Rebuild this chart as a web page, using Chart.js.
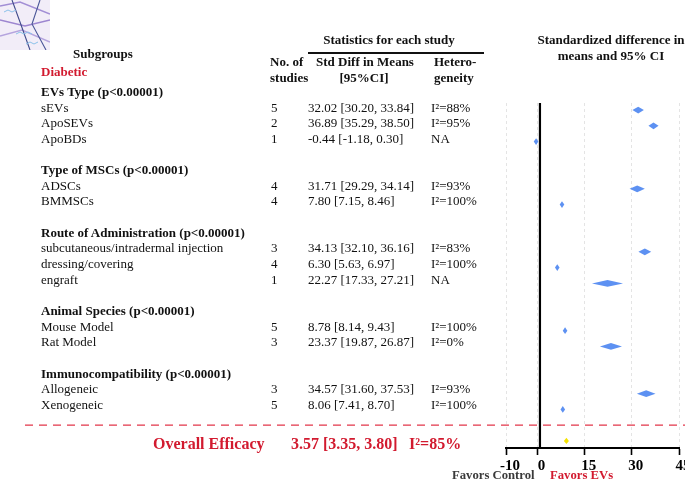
<!DOCTYPE html>
<html>
<head>
<meta charset="utf-8">
<script src="https://cdn.jsdelivr.net/npm/chart.js@4/dist/chart.umd.min.js"></script>
<style>
  html, body { margin: 0; padding: 0; background: #fff; overflow: hidden; }
  #wrap { position: relative; width: 685px; height: 480px; overflow: hidden;
    font-family: "Liberation Serif", "Times New Roman", serif; color: #111; }
  #forest { position: absolute; left: 0; top: 0; }
  #labels { position: absolute; left: 0; top: 0; width: 685px; height: 480px; pointer-events: none; }
  .t { position: absolute; white-space: nowrap; line-height: 16px; font-size: 13px; }
  .b { font-weight: bold; }
  .red { color: #d21a2f; }
  .c { transform: translateX(-50%); text-align: center; }
  .big { font-size: 16px; line-height: 20px; }
</style>
</head>
<body>
<div id="wrap">
  <svg width="50" height="50" style="position:absolute;left:0;top:0">
    <rect width="50" height="50" fill="#f2edf8"/>
    <path d="M0 6 L20 2 L50 14" stroke="#a28ed5" stroke-width="1.6" fill="none"/>
    <path d="M0 20 L25 26 L50 20" stroke="#9d86d0" stroke-width="1.4" fill="none"/>
    <path d="M0 36 L22 30 L50 42" stroke="#b5a4de" stroke-width="1.4" fill="none"/>
    <path d="M12 0 L20 22 L30 50" stroke="#414b8c" stroke-width="1.1" fill="none"/>
    <path d="M40 0 L32 24 L46 50" stroke="#4b5698" stroke-width="1.1" fill="none"/>
    <path d="M4 12 l4 -2 l4 2 l4 -2" stroke="#8cc2ea" stroke-width="1" fill="none"/>
    <path d="M16 34 l4 -2 l4 2 l4 -2 l4 2" stroke="#8cc2ea" stroke-width="1" fill="none"/>
    <path d="M26 44 l4 -2 l4 2 l4 -2" stroke="#8cc2ea" stroke-width="1" fill="none"/>
  </svg>
  <canvas id="forest" width="685" height="480"></canvas>
  <div id="labels"></div>
</div>
<script>
// subgroup data
const groupHeaders = ['EVs Type (p<0.00001)', 'Type of MSCs (p<0.00001)',
  'Route of Administration (p<0.00001)', 'Animal Species (p<0.00001)',
  'Immunocompatibility (p<0.00001)'];
const categories = ['sEVs', 'ApoSEVs', 'ApoBDs', 'ADSCs', 'BMMSCs',
  'subcutaneous/intradermal injection', 'dressing/covering', 'engraft',
  'Mouse Model', 'Rat Model', 'Allogeneic', 'Xenogeneic'];
const groupOf = [0, 0, 0, 1, 1, 2, 2, 2, 3, 3, 4, 4];
const nStudies = [5, 2, 1, 4, 4, 3, 4, 1, 5, 3, 3, 5];
const means = [32.02, 36.89, -0.44, 31.71, 7.80, 34.13, 6.30, 22.27, 8.78, 23.37, 34.57, 8.06];
const lower = [30.20, 35.29, -1.18, 29.29, 7.15, 32.10, 5.63, 17.33, 8.14, 19.87, 31.60, 7.41];
const upper = [33.84, 38.50, 0.30, 34.14, 8.46, 36.16, 6.97, 27.21, 9.43, 26.87, 37.53, 8.70];
const i2 = [88, 95, null, 93, 100, 83, 100, null, 100, 0, 93, 100];

const overallStats = [3.57, 3.35, 3.80];
const overallI2 = 85;
const overallMarker = [9.2, 8.4, 10.0]; // where the yellow diamond sits in the picture

const xTicks = [-10, 0, 15, 30, 45];

// row layout: header, items, blank line between groups
const itemRows = [];
const headerRows = [];
let row = -1;
groupOf.forEach((g, i) => {
  if (i === 0 || groupOf[i - 1] !== g) {
    if (i > 0) row++;
    headerRows.push(row);
    row++;
  }
  itemRows.push(row);
  row++;
});
const sepRow = row;
const overallRow = row + 1;

const fmt = v => v.toFixed(2);
const ciText = (m, l, h) => fmt(m) + ' [' + fmt(l) + ', ' + fmt(h) + ']';

// html text
const box = document.getElementById('labels');
function put(text, x, y, cls, style) {
  const d = document.createElement('div');
  d.className = 't ' + (cls || '');
  d.textContent = text;
  d.style.left = x + 'px';
  d.style.top = (y - (cls && cls.indexOf('big') >= 0 ? 10 : 8)) + 'px';
  if (style) Object.assign(d.style, style);
  box.appendChild(d);
}
const textY = r => 107.5 + 15.66 * r;

put('Statistics for each study', 389, 40, 'b c');
const rule = document.createElement('div');
Object.assign(rule.style, {position: 'absolute', left: '308px', top: '52px', width: '176px', height: '1.5px', background: '#111'});
box.appendChild(rule);
put('Standardized difference in', 611, 40, 'b c');
put('means and 95% CI', 611, 56, 'b c');
put('Subgroups', 73, 54, 'b');
put('Diabetic', 41, 72, 'b red');
put('No. of', 270, 62, 'b');
put('studies', 270, 78, 'b');
put('Std Diff in Means', 365, 62, 'b c');
put('[95%CI]', 364, 78, 'b c');
put('Hetero-', 434, 62, 'b');
put('geneity', 434, 78, 'b');

groupHeaders.forEach((h, g) => put(h, 41, textY(headerRows[g]), 'b'));
categories.forEach((c, i) => {
  const y = textY(itemRows[i]);
  put(c, 41, y);
  put(String(nStudies[i]), 271, y);
  put(ciText(means[i], lower[i], upper[i]), 308, y);
  put(i2[i] === null ? 'NA' : 'I\u00b2=' + i2[i] + '%', 431, y);
});

put('Overall Efficacy', 153, 444, 'b red big');
put(ciText(overallStats[0], overallStats[1], overallStats[2]), 291, 444, 'b red big');
put('I\u00b2=' + overallI2 + '%', 409, 444, 'b red big');
put('Favors Control', 452, 475, 'b', {color: '#3a3a3a', fontSize: '12.7px'});
put('Favors EVs', 550, 475, 'b red', {fontSize: '12.7px'});

// diamonds, zero line and separator
const forestMarks = {
  id: 'forestMarks',
  beforeDatasetsDraw(chart) {
    const {ctx, chartArea, scales: {x, y}} = chart;
    ctx.save();
    ctx.strokeStyle = '#000';
    ctx.lineWidth = 2.2;
    const zx = x.getPixelForValue(0) + 2.5;
    ctx.beginPath();
    ctx.moveTo(zx, chartArea.top);
    ctx.lineTo(zx, chartArea.bottom);
    ctx.stroke();
    const sy = y.getPixelForValue(sepRow);
    ctx.strokeStyle = '#e2364a';
    ctx.lineWidth = 1.2;
    ctx.setLineDash([8, 6]);
    ctx.beginPath();
    ctx.moveTo(25, sy);
    ctx.lineTo(chart.width, sy);
    ctx.stroke();
    ctx.restore();
  },
  afterDatasetsDraw(chart) {
    const {ctx, scales: {x, y}} = chart;
    chart.data.datasets.forEach(ds => {
      ds.data.forEach(p => {
        const cx = x.getPixelForValue(p.x);
        const cy = y.getPixelForValue(p.y);
        const l = Math.min(x.getPixelForValue(p.lo), cx - 2.3);
        const r = Math.max(x.getPixelForValue(p.hi), cx + 2.3);
        ctx.save();
        ctx.fillStyle = ds.diamondColor;
        ctx.beginPath();
        ctx.moveTo(l, cy);
        ctx.lineTo(cx, cy - ds.halfH);
        ctx.lineTo(r, cy);
        ctx.lineTo(cx, cy + ds.halfH);
        ctx.closePath();
        ctx.fill();
        ctx.restore();
      });
    });
  }
};

new Chart(document.getElementById('forest'), {
  type: 'scatter',
  data: {
    datasets: [{
      data: means.map((m, i) => ({x: m, y: itemRows[i], lo: lower[i], hi: upper[i]})),
      pointRadius: 0,
      diamondColor: '#5d91f2',
      halfH: 3.4
    }, {
      data: [{x: overallMarker[0], y: overallRow, lo: overallMarker[1], hi: overallMarker[2]}],
      pointRadius: 0,
      diamondColor: '#f5e300',
      halfH: 3.2
    }]
  },
  options: {
    responsive: false,
    animation: false,
    events: [],
    layout: {padding: {left: 506, right: 6, top: 103, bottom: 0}},
    plugins: {legend: {display: false}, tooltip: {enabled: false}},
    scales: {
      x: {
        type: 'linear',
        min: -10,
        max: 45,
        afterBuildTicks: axis => { axis.ticks = xTicks.map(v => ({value: v})); },
        afterFit: scale => { scale.height = 32; scale.paddingLeft = 0; scale.paddingRight = 0; },
        ticks: {
          autoSkip: false,
          maxRotation: 0,
          padding: 2,
          labelOffset: 4,
          color: '#000',
          font: {family: 'Liberation Serif', size: 15, weight: 'bold'}
        },
        grid: {color: '#e4e4e4', lineWidth: 1, tickColor: '#000', tickLength: 7, tickWidth: 1.6},
        border: {display: true, color: '#000', width: 2, dash: [3, 3]}
      },
      y: {
        type: 'linear',
        reverse: true,
        min: -0.45,
        max: 21.45,
        display: false
      }
    }
  },
  plugins: [forestMarks]
});
</script>
</body>
</html>
